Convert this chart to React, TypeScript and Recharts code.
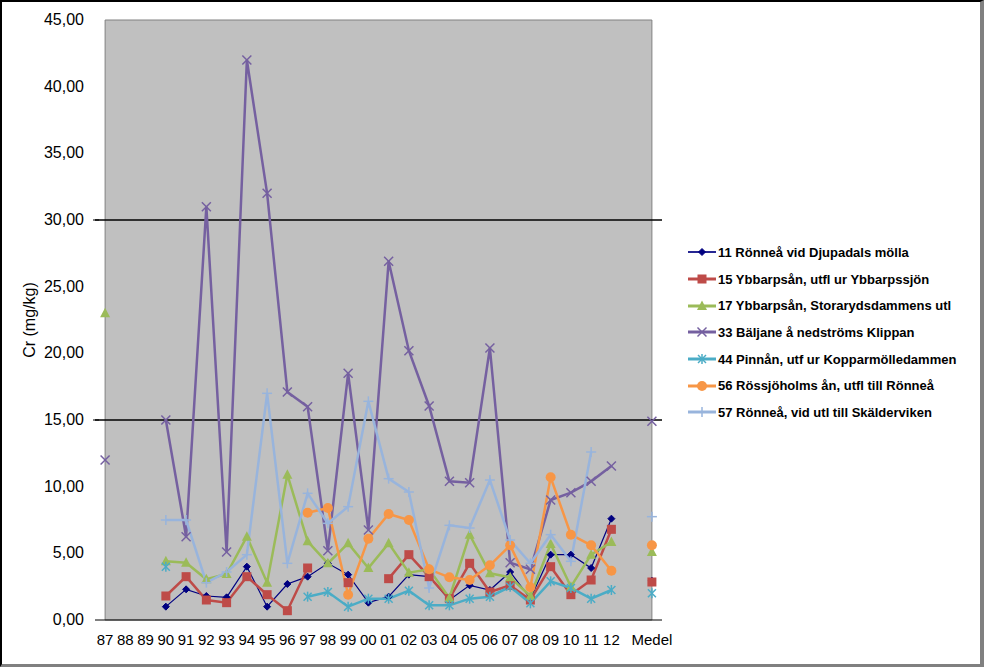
import React from 'react';
import { LineChart, Line, XAxis, YAxis, ReferenceLine, ReferenceArea } from 'recharts';

const categories = ['87','88','89','90','91','92','93','94','95','96','97','98','99','00','01','02','03','04','05','06','07','08','09','10','11','12',' ','Medel'];

const s11 = [null,null,null,1.0,2.3,1.8,1.7,4.0,1.0,2.7,3.25,4.25,3.4,1.3,1.75,3.4,3.25,1.5,2.6,2.25,3.6,1.6,4.9,4.9,3.9,7.6,null,2.95];
const s15 = [null,null,null,1.8,3.25,1.5,1.3,3.25,1.9,0.7,3.9,null,2.8,null,3.1,4.9,3.25,1.6,4.25,2.1,2.6,1.5,4.0,1.9,3.0,6.8,null,2.85];
const s17 = [23.0,null,null,4.4,4.3,3.05,3.45,6.25,2.8,10.9,5.9,4.25,5.75,3.9,5.75,3.55,3.8,1.65,6.4,3.5,3.2,1.8,5.7,2.5,4.9,5.85,null,5.1];
const s33 = [12.0,null,null,15.0,6.25,31.0,5.1,42.0,32.0,17.1,16.0,5.2,18.5,6.75,26.9,20.2,16.05,10.4,10.3,20.4,4.3,3.8,9.0,9.55,10.4,11.55,null,14.9];
const s44 = [null,null,null,4.0,null,null,null,null,null,null,1.75,2.1,1.0,1.6,1.6,2.2,1.1,1.1,1.6,1.75,2.5,1.25,2.9,2.4,1.6,2.25,null,2.0];
const s56 = [null,null,null,null,null,null,null,null,null,null,8.05,8.4,1.9,6.1,7.95,7.5,3.8,3.2,3.0,4.1,5.6,2.45,10.7,6.4,5.6,3.7,null,5.6];
const s57 = [null,null,null,7.5,7.5,2.8,3.6,4.9,17.0,4.25,9.5,7.25,8.5,16.4,10.6,9.6,2.4,7.1,6.9,10.5,6.0,4.25,6.4,4.4,12.6,null,null,7.75];

const yTicks = [0,5,10,15,20,25,30,35,40,45];

const seriesNames = [
  '11 Rönneå vid Djupadals mölla',
  '15 Ybbarpsån, utfl ur Ybbarpssjön',
  '17 Ybbarpsån, Storarydsdammens utl',
  '33 Bäljane å nedströms Klippan',
  '44 Pinnån, utf ur Kopparmölledammen',
  '56 Rössjöholms ån, utfl till Rönneå',
  '57 Rönneå, vid utl till Skälderviken',
];

const seriesValues = [s11, s15, s17, s33, s44, s56, s57];
const seriesKeys = ['s11','s15','s17','s33','s44','s56','s57'];
const seriesColors = ['#000080','#BE4B48','#9BBB59','#7560A0','#4BACC6','#F79646','#98B4DC'];
const seriesMarkers = ['diamond','square','triangle','x','asterisk','circle','plus'];
const seriesWidths = [1.2,2.5,2.5,2.5,2.5,2.5,2.5];

const data = categories.map((c, i) => {
  const row: any = { cat: c };
  seriesKeys.forEach((k, j) => { row[k] = seriesValues[j][i]; });
  return row;
});

const FONT = 'Liberation Sans, Arial, sans-serif';

function Marker({ cx, cy, type, color }: any) {
  switch (type) {
    case 'diamond':
      return <polygon points={`${cx},${cy-3.5} ${cx+3.5},${cy} ${cx},${cy+3.5} ${cx-3.5},${cy}`} fill={color} stroke={color} />;
    case 'square':
      return <rect x={cx-4.5} y={cy-4.5} width={9} height={9} fill={color} />;
    case 'triangle':
      return <polygon points={`${cx},${cy-5.5} ${cx+5},${cy+4} ${cx-5},${cy+4}`} fill={color} />;
    case 'x':
      return <g stroke={color} strokeWidth={1.5}><line x1={cx-4.5} y1={cy-4.5} x2={cx+4.5} y2={cy+4.5} /><line x1={cx-4.5} y1={cy+4.5} x2={cx+4.5} y2={cy-4.5} /></g>;
    case 'asterisk':
      return <g stroke={color} strokeWidth={1.5}><line x1={cx-4} y1={cy-4} x2={cx+4} y2={cy+4} /><line x1={cx-4} y1={cy+4} x2={cx+4} y2={cy-4} /><line x1={cx} y1={cy-5} x2={cx} y2={cy+5} /></g>;
    case 'circle':
      return <circle cx={cx} cy={cy} r={5} fill={color} />;
    case 'plus':
      return <g stroke={color} strokeWidth={1.5}><line x1={cx-5} y1={cy} x2={cx+5} y2={cy} /><line x1={cx} y1={cy-5} x2={cx} y2={cy+5} /></g>;
    default:
      return null;
  }
}

const makeDot = (type: string, color: string) => (props: any) => {
  const { cx, cy, value, index } = props;
  if (value == null || cx == null || cy == null) return <g key={`d-${type}-${index}`} />;
  return <g key={`d-${type}-${index}`}><Marker cx={cx} cy={cy} type={type} color={color} /></g>;
};

const YTick = (props: any) => {
  const { x, y, payload } = props;
  const v = payload.value;
  const label = Number(v).toFixed(2).replace('.', ',');
  return (
    <g>
      {(v === 15 || v === 30) && <line x1={x + 6} x2={x + 12} y1={y} y2={y} stroke="#000" />}
      <text x={x - 3} y={y} dy={5} textAnchor="end" fontSize={16} fontFamily={FONT} fill="#000">{label}</text>
    </g>
  );
};

const LegendBox = () => (
  <div style={{ position: 'absolute', left: 688, top: 239, width: 296, fontFamily: FONT }}>
    {seriesNames.map((n, i) => (
      <div key={n} style={{ height: 26.7, display: 'flex', alignItems: 'center' }}>
        <svg width={28} height={14} style={{ marginRight: 2 }}>
          <line x1={0} x2={28} y1={7} y2={7} stroke={seriesColors[i]} strokeWidth={seriesWidths[i] + 0.5} />
          <Marker cx={14} cy={7} type={seriesMarkers[i]} color={seriesColors[i]} />
        </svg>
        <span style={{ fontSize: 13, fontWeight: 'bold', color: '#000', whiteSpace: 'nowrap' }}>{n}</span>
      </div>
    ))}
  </div>
);

export default function App() {
  return (
    <div style={{ position: 'absolute', left: 0, top: 0, width: 984, height: 667, background: '#fff', overflow: 'hidden' }}>
      <LineChart width={984} height={667} data={data} margin={{ top: 20, right: 322, bottom: 17, left: 35 }}>
        <ReferenceArea y1={0} y2={45} fill="#C0C0C0" fillOpacity={1} stroke="#808080" strokeWidth={1} ifOverflow="visible" />
        <ReferenceLine y={15} stroke="#000" strokeWidth={1.3} />
        <ReferenceLine y={30} stroke="#000" strokeWidth={1.3} />
        <XAxis dataKey="cat" interval={0} tickLine={false} axisLine={{ stroke: '#000' }} height={30}
          padding={{ left: 10.1, right: 10.1 }}
          tick={{ fontSize: 15, fontFamily: FONT, fill: '#000', dy: 6 }} />
        <YAxis domain={[0, 45]} ticks={yTicks} width={60} axisLine={false} tickLine={false} tick={<YTick />}
          label={{ value: 'Cr (mg/kg)', angle: -90, position: 'insideLeft', offset: -6, style: { fontSize: 16, fontFamily: FONT, fill: '#000', textAnchor: 'middle' } }} />
        {seriesKeys.map((k, i) => (
          <Line key={k} dataKey={k} name={seriesNames[i]} stroke={seriesColors[i]} strokeWidth={seriesWidths[i]}
            isAnimationActive={false} connectNulls={false} dot={makeDot(seriesMarkers[i], seriesColors[i])} activeDot={false} />
        ))}
      </LineChart>
      <LegendBox />
      <div style={{ position: 'absolute', left: 0, top: 0, width: 984, height: 667, boxSizing: 'border-box', borderLeft: '2px solid #000', borderTop: '2px solid #000', borderRight: '4px solid #808080', borderBottom: '3px solid #808080', pointerEvents: 'none' }} />
    </div>
  );
}
